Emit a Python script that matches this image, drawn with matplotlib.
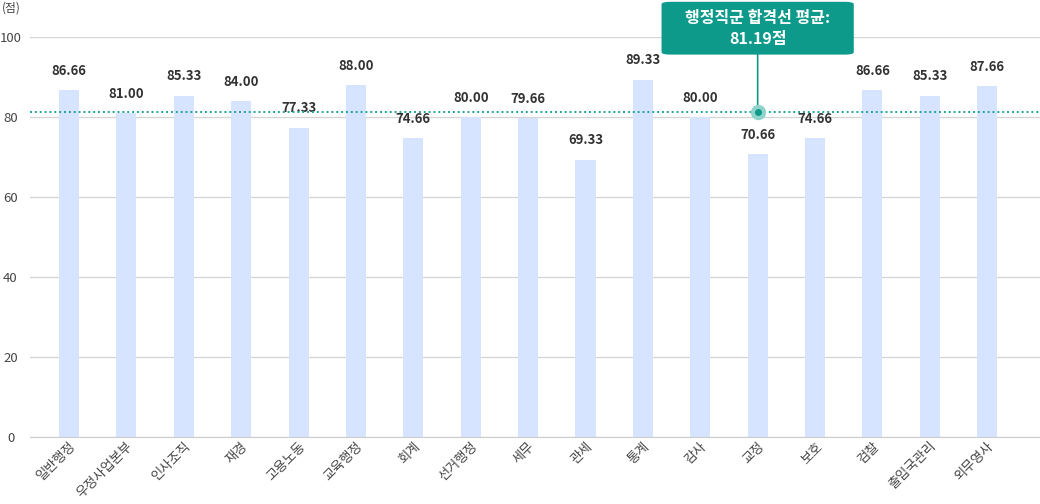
import matplotlib.pyplot as plt
from matplotlib.patches import FancyBboxPatch

plt.rcParams['font.family'] = ['Noto Sans CJK KR', 'DejaVu Sans']

# 직렬별 합격선 (점)
categories = ['일반행정', '우정사업본부', '인사조직', '재경', '고용노동', '교육행정', '회계', '선거행정', '세무',
              '관세', '통계', '감사', '교정', '보호', '검찰', '출입국관리', '외무영사']
scores = [86.66, 81.00, 85.33, 84.00, 77.33, 88.00, 74.66, 80.00, 79.66,
          69.33, 89.33, 80.00, 70.66, 74.66, 86.66, 85.33, 87.66]
average = 81.19
avg_index = 12
yticks = [0, 20, 40, 60, 80, 100]

fig = plt.figure(figsize=(10.4, 5.04), dpi=100)
ax = fig.add_axes([30 / 1040, (504 - 437) / 504, 1010 / 1040, 400 / 504])

x = list(range(len(categories)))
ax.bar(x, scores, width=0.35, color='#d6e4ff', zorder=2)

for xi, s in zip(x, scores):
    ax.annotate(f'{s:.2f}', (xi, s), xytext=(0, 9), textcoords='offset points',
                ha='center', va='bottom', fontsize=9.5, fontweight='bold', color='#333333')

# 평균선
ax.axhline(average, color='#1fa39a', linestyle=(0, (1, 1.5)), linewidth=1.4, zorder=3)
ax.plot([avg_index], [average], 'o', color='#8fd3cb', markersize=10, zorder=4)
ax.plot([avg_index], [average], 'o', color='#0e9a8a', markersize=4, zorder=5)
ax.annotate('', (avg_index, average), xytext=(avg_index, 96),
            arrowprops=dict(arrowstyle='-', color='#0e9a8a', lw=1.2, shrinkA=0, shrinkB=0),
            annotation_clip=False)

# 툴팁 박스
box_w = 3.35
box = FancyBboxPatch((avg_index - box_w / 2, 95.6), box_w, 13.2,
                     boxstyle='round,pad=0,rounding_size=0.15', mutation_aspect=4.0,
                     fc='#0e9a8a', ec='none', clip_on=False, zorder=6)
ax.add_patch(box)
ax.text(avg_index, 102.2, '행정직군 합격선 평균:\n81.19점', ha='center', va='center',
        fontsize=11.5, fontweight='bold', color='white', linespacing=1.4, clip_on=False, zorder=7)

ax.set_ylim(0, 100)
ax.set_xlim(-0.68, 16.92)
ax.set_yticks(yticks)
ax.grid(axis='y', color='#d4d4d4', linewidth=0.9, zorder=0)
ax.set_axisbelow(True)
for side in ['top', 'right', 'left']:
    ax.spines[side].set_visible(False)
ax.spines['bottom'].set_color('#cccccc')
ax.tick_params(axis='y', length=0, labelsize=9.5, colors='#444444', pad=14)
ax.tick_params(axis='x', length=0, labelsize=9.5, colors='#444444', pad=2)
ax.set_xticks(x)
ax.set_xticklabels(categories, rotation=45, ha='right', rotation_mode='anchor')
for lbl in ax.get_yticklabels():
    lbl.set_horizontalalignment('center')

fig.text(2 / 1040, 1 - 8 / 504, '(점)', fontsize=8.5, color='#444444', va='center', ha='left')

fig.savefig('out.png', dpi=100)
